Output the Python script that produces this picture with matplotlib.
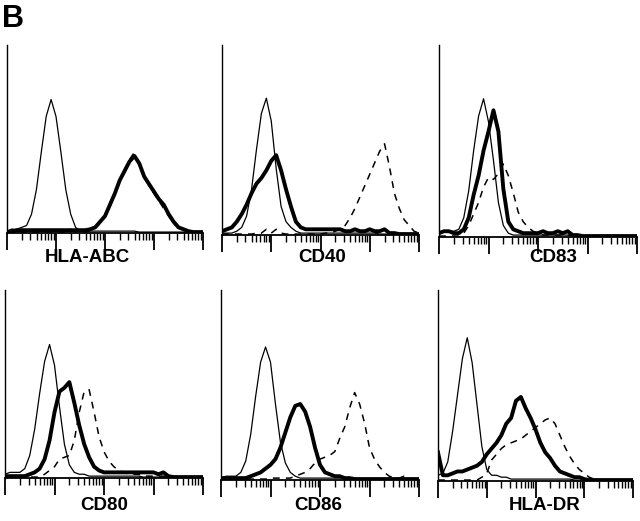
import numpy as np
import matplotlib
matplotlib.use("Agg")
import matplotlib.pyplot as plt
from matplotlib.ticker import LogLocator, NullFormatter

# histogram bins: log decades 0..4 in steps of 0.1
decades = np.round(np.arange(0, 4.01, 0.1), 2)
channels = 10 ** decades

markers = ["HLA-ABC", "CD40", "CD83", "CD80", "CD86", "HLA-DR"]

abc_thin = [1,2,2,3,4,10,23,43,62,71, 62,43,23,10,3,1,1,1,1,1, 1,1,1,1,1,1,1,0.5,0.5,0.5, 0.5,0.5,0.5,0.5,0.5,0.5,0.5,0.5,0.5,0.5, 0.5]
abc_thick = [0.5,0.5,1.5,1.5,1.5,1.5,1.5,1.5,1.5,1.5, 1.5,1.5,1.5,1.5,1.5,1.5,1.5,2,3,6, 9,15,21,28,33,38,41,37,30,26, 22,18,15,10,6,3,2,1,0.5,0.5, 0.5]
abc_dash = [1,2,1,0.5,0.5,0.5,0.5,0.5,0.5,0.5, 0.5,0.5,0.5,2,0.5,0.5,0.5,1,3,6, 9,14,21,28,34,39,43,36,30,25, 21,17,13,9,5,3,2,1,0.5,0.5, 0.5]

cd40_thin = [1,1,1,2,4,10,24,45,64,72, 60,35,15,7,4,2,1,1,1,1, 1,1,1,1,1,1,1,1,1,1, 1,1,0.5,0.5,0.5,0.5,0.5,0.5,0.5,0.5, 0.5]
cd40_thick = [2,3,4,7,11,16,22,27,30,34, 39,42,34,24,15,7,4,3,3,3, 3,3,3,3,3,2,2,3,2,2, 3,2,2,3,1,1,0.5,0.5,0.5,0.5, 0.5]
cd40_dash = [0.5,0.5,0.5,0.5,0.5,0.5,0.5,1,1,3, 1,3,1,0.5,0.5,0.5,0.5,0.5,0.5,0.5, 0.5,1,1,2,3,5,9,14,20,26, 32,38,44,48,36,22,14,8,5,2, 1]

cd83_thin = [2,3,3,3,4,10,24,45,63,72, 60,40,18,6,2,1,1,1,1,1, 1,1,1,1,1,1,1,0.5,0.5,0.5, 0.5,0.5,0.5,0.5,0.5,0.5,0.5,0.5,0.5,0.5, 0.5]
cd83_thick = [2,3,3,2,2,4,10,22,32,45, 55,66,55,25,8,4,3,2,2,2, 2,3,2,2,3,2,3,1,1,0.5, 0.5,0.5,0.5,0.5,0.5,0.5,0.5,0.5,0.5,0.5, 0.5]
cd83_dash = [0.5,0.5,0.5,0.5,0.5,2,6,12,18,26, 31,30,33,38,32,23,13,8,5,3, 2,1,1,1,1,1,1,0.5,0.5,0.5, 0.5,0.5,0.5,0.5,0.5,0.5,0.5,0.5,0.5,0.5, 0.5]

cd80_thin = [2,3,3,3,5,12,26,45,62,71, 60,38,18,7,3,2,2,1,1,1, 1,1,1,1,1,1,1,1,0.5,0.5, 0.5,0.5,0.5,0.5,0.5,0.5,0.5,0.5,0.5,0.5, 0.5]
cd80_thick = [1,1,1,1,1,2,3,5,10,20, 35,46,48,51,40,28,18,11,6,4, 3,3,3,3,3,3,3,3,3,3, 3,2,3,1,0.5,0.5,0.5,0.5,0.5,0.5, 0.5]
cd80_dash = [0.5,0.5,0.5,0.5,0.5,0.5,0.5,0.5,2,4, 6,10,11,12,20,35,46,47,35,22, 14,9,6,4,3,2,2,2,1,1, 1,1,1,1,1,0.5,0.5,0.5,0.5,0.5, 0.5]

cd86_thin = [1,2,2,2,4,10,24,44,62,70, 62,40,20,9,4,2,1,1,1,1, 1,1,1,1,1,1,1,0.5,0.5,0.5, 0.5,0.5,0.5,0.5,0.5,0.5,0.5,0.5,0.5,0.5, 0.5]
cd86_thick = [1,1,1,1,1,1,2,3,4,6, 8,11,17,25,33,39,40,36,28,17, 8,4,3,2,2,1,1,0.5,0.5,0.5, 0.5,0.5,0.5,0.5,0.5,0.5,0.5,0.5,0.5,0.5, 0.5]
cd86_dash = [0.5,0.5,0.5,0.5,0.5,0.5,0.5,0.5,0.5,0.5, 1,1,1,1,1,2,3,4,6,9, 11,12,13,15,22,28,38,46,40,30, 17,11,7,4,2,1,1,2,1,0.5, 0.5]

dr_thin = [3,4,10,26,45,64,75,62,40,18, 6,3,3,2,2,1,1,1,1,1, 1,1,1,1,1,1,1,1,0.5,0.5, 0.5,0.5,0.5,0.5,0.5,0.5,0.5,0.5,0.5,0.5, 0.5]
dr_thick = [15,3,3,4,5,5,6,7,8,10, 14,17,20,24,30,33,42,44,38,33, 27,20,15,12,8,5,4,3,2,2, 1,0.5,0.5,0.5,0.5,0.5,0.5,0.5,0.5,0.5, 0.5]
dr_dash = [0.5,0.5,0.5,0.5,0.5,0.5,0.5,0.5,0.5,2, 4,11,14,17,19,20,21,22,24,26, 28,30,32,33,30,24,18,13,9,6, 4,2,1,0.5,0.5,0.5,0.5,0.5,0.5,0.5, 0.5]

thin_series = [abc_thin, cd40_thin, cd83_thin, cd80_thin, cd86_thin, dr_thin]
thick_series = [abc_thick, cd40_thick, cd83_thick, cd80_thick, cd86_thick, dr_thick]
dash_series = [abc_dash, cd40_dash, cd83_dash, cd80_dash, cd86_dash, dr_dash]

W, H = 640, 521
fig = plt.figure(figsize=(W / 100, H / 100), dpi=100)

# panel boxes in pixels: left, right, top, bottom
boxes = [(7, 203, 45, 233), (222, 419, 45, 235), (439, 637, 45, 237),
         (5, 203, 290, 478), (221, 419, 290, 480), (438, 633, 290, 481)]
label_pos = [(87, 257), (322, 257), (553, 257), (104, 506), (318, 506), (545, 506)]

for i, name in enumerate(markers):
    l, r, t, b = boxes[i]
    ax = fig.add_axes([l / W, (H - b) / H, (r - l) / W, (b - t) / H])
    ax.plot(channels, thin_series[i], color="black", lw=0.9, zorder=3)
    ax.plot(channels, dash_series[i], color="black", lw=1.1, dashes=(4.5, 4), zorder=2)
    ax.plot(channels, thick_series[i], color="black", lw=2.8, zorder=4)
    ax.set_xscale("log")
    ax.set_xlim(1, 1e4)
    ax.set_ylim(0, 100)
    ax.xaxis.set_major_locator(LogLocator(base=10, numticks=10))
    ax.xaxis.set_minor_locator(LogLocator(base=10, subs=np.arange(2, 10), numticks=50))
    ax.xaxis.set_major_formatter(NullFormatter())
    ax.xaxis.set_minor_formatter(NullFormatter())
    ax.tick_params(axis="x", which="major", length=12, width=1.3, direction="out")
    ax.tick_params(axis="x", which="minor", length=5, width=1.0, direction="out")
    ax.set_yticks([])
    for s in ["top", "right"]:
        ax.spines[s].set_visible(False)
    ax.spines["left"].set_linewidth(1.0)
    ax.spines["bottom"].set_linewidth(1.3)
    lx, ly = label_pos[i]
    fig.text(lx / W, (H - ly) / H, name, ha="center", va="center",
             fontsize=13.5, fontweight="bold", family=["Liberation Sans", "DejaVu Sans"])

fig.text(2 / W, (H - 27) / H, "B", ha="left", va="baseline", fontsize=22,
         fontweight="bold", family=["Liberation Sans", "DejaVu Sans"])

fig.savefig("out.png", dpi=100)
